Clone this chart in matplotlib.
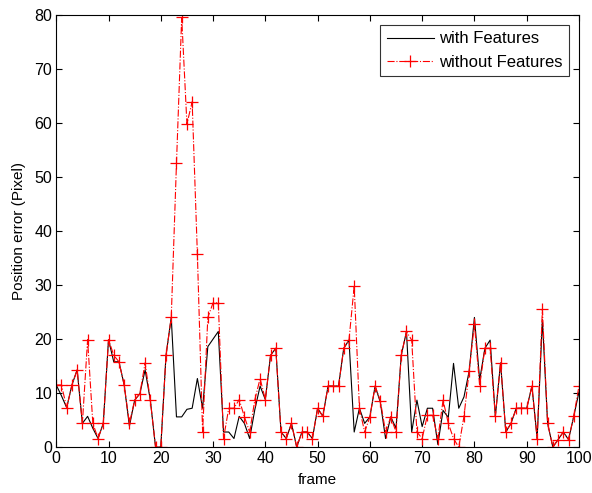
import numpy as np
import matplotlib
matplotlib.use('Agg')
import matplotlib.pyplot as plt

plt.rcParams['font.family'] = ['Liberation Sans', 'DejaVu Sans']

# frame index 0..100
frames = np.arange(0, 101)

# position error with features (black solid)
with_features = [
    11.5, 9.5, 7.3, 11.5, 14.3, 4.4, 5.7, 3.5, 1.6, 4.4,
    19.9, 15.8, 15.8, 11.5, 3.9, 8.7, 9.9, 14.3, 8.7, 0.0,
    0.0, 17.0, 24.0, 5.6, 5.6, 7.0, 7.2, 12.7, 7.2, 18.6,
    20.0, 21.4, 2.8, 2.8, 1.6, 5.7, 4.4, 1.6, 7.0, 11.3,
    8.8, 17.0, 18.3, 2.8, 1.6, 4.4, 0.0, 2.8, 2.8, 1.6,
    7.2, 5.7, 11.3, 11.3, 11.3, 18.3, 19.8, 2.8, 7.2, 4.4,
    5.6, 11.3, 8.3, 1.6, 5.6, 3.5, 17.0, 21.4, 2.8, 8.7,
    3.8, 7.2, 7.2, 0.5, 6.8, 5.5, 15.5, 7.2, 9.3, 14.1,
    24.0, 12.4, 18.3, 19.8, 5.7, 15.6, 2.8, 4.4, 7.2, 7.2,
    7.2, 11.3, 1.6, 23.6, 4.4, 0.0, 1.4, 2.8, 1.4, 5.7,
    10.2,
]

# position error without features (red dash-dot with + markers)
without_features = [
    11.5, 11.5, 7.3, 11.5, 14.3, 4.4, 19.9, 4.4, 1.6, 4.4,
    19.9, 17.0, 15.8, 11.5, 4.4, 8.7, 9.9, 15.6, 8.7, 0.0,
    0.0, 17.0, 24.0, 52.5, 79.5, 59.8, 63.9, 35.7, 2.8, 24.0,
    26.7, 26.7, 1.6, 7.2, 7.2, 8.8, 5.6, 2.8, 8.8, 12.7,
    8.8, 17.0, 18.3, 2.8, 1.6, 4.4, 0.0, 2.8, 2.8, 1.6,
    7.2, 5.7, 11.3, 11.3, 11.3, 18.3, 19.8, 29.8, 7.2, 2.8,
    5.6, 11.3, 8.6, 2.8, 5.6, 2.8, 17.0, 21.4, 19.8, 2.8,
    1.6, 5.9, 5.9, 1.6, 8.7, 4.4, 1.6, 0.0, 5.7, 14.1,
    22.8, 11.3, 18.3, 18.3, 5.7, 15.6, 2.8, 4.4, 7.2, 7.2,
    7.2, 11.3, 1.6, 25.5, 4.4, 0.0, 1.4, 2.8, 1.4, 5.7,
    11.3,
]

fig = plt.figure(figsize=(5.92, 4.93), dpi=100)
ax = fig.add_axes([0.095, 0.093, 0.883, 0.877])

ax.plot(frames, with_features, color='black', lw=0.8, label='with Features')
ax.plot(frames, without_features, color='red', lw=0.8, linestyle='-.',
        marker='+', markersize=8, markeredgewidth=0.9, label='without Features')

ax.set_xlim(0, 100)
ax.set_ylim(0, 80)
ax.set_xticks(np.arange(0, 101, 10))
ax.set_yticks(np.arange(0, 81, 10))
ax.tick_params(direction='in', length=4, width=0.8, top=True, right=True,
               labelsize=11.5, pad=3)
for s in ax.spines.values():
    s.set_linewidth(0.8)

ax.set_xlabel('frame', fontsize=11, labelpad=5)
ax.set_ylabel('Position error (Pixel)', fontsize=11, labelpad=6)

leg = ax.legend(loc='upper right', fontsize=12, frameon=True, fancybox=False,
                edgecolor='black', handlelength=2.8, borderaxespad=0.6,
                labelspacing=0.5, handletextpad=0.3)
leg.get_frame().set_linewidth(0.8)

fig.savefig('out.png', dpi=100)
